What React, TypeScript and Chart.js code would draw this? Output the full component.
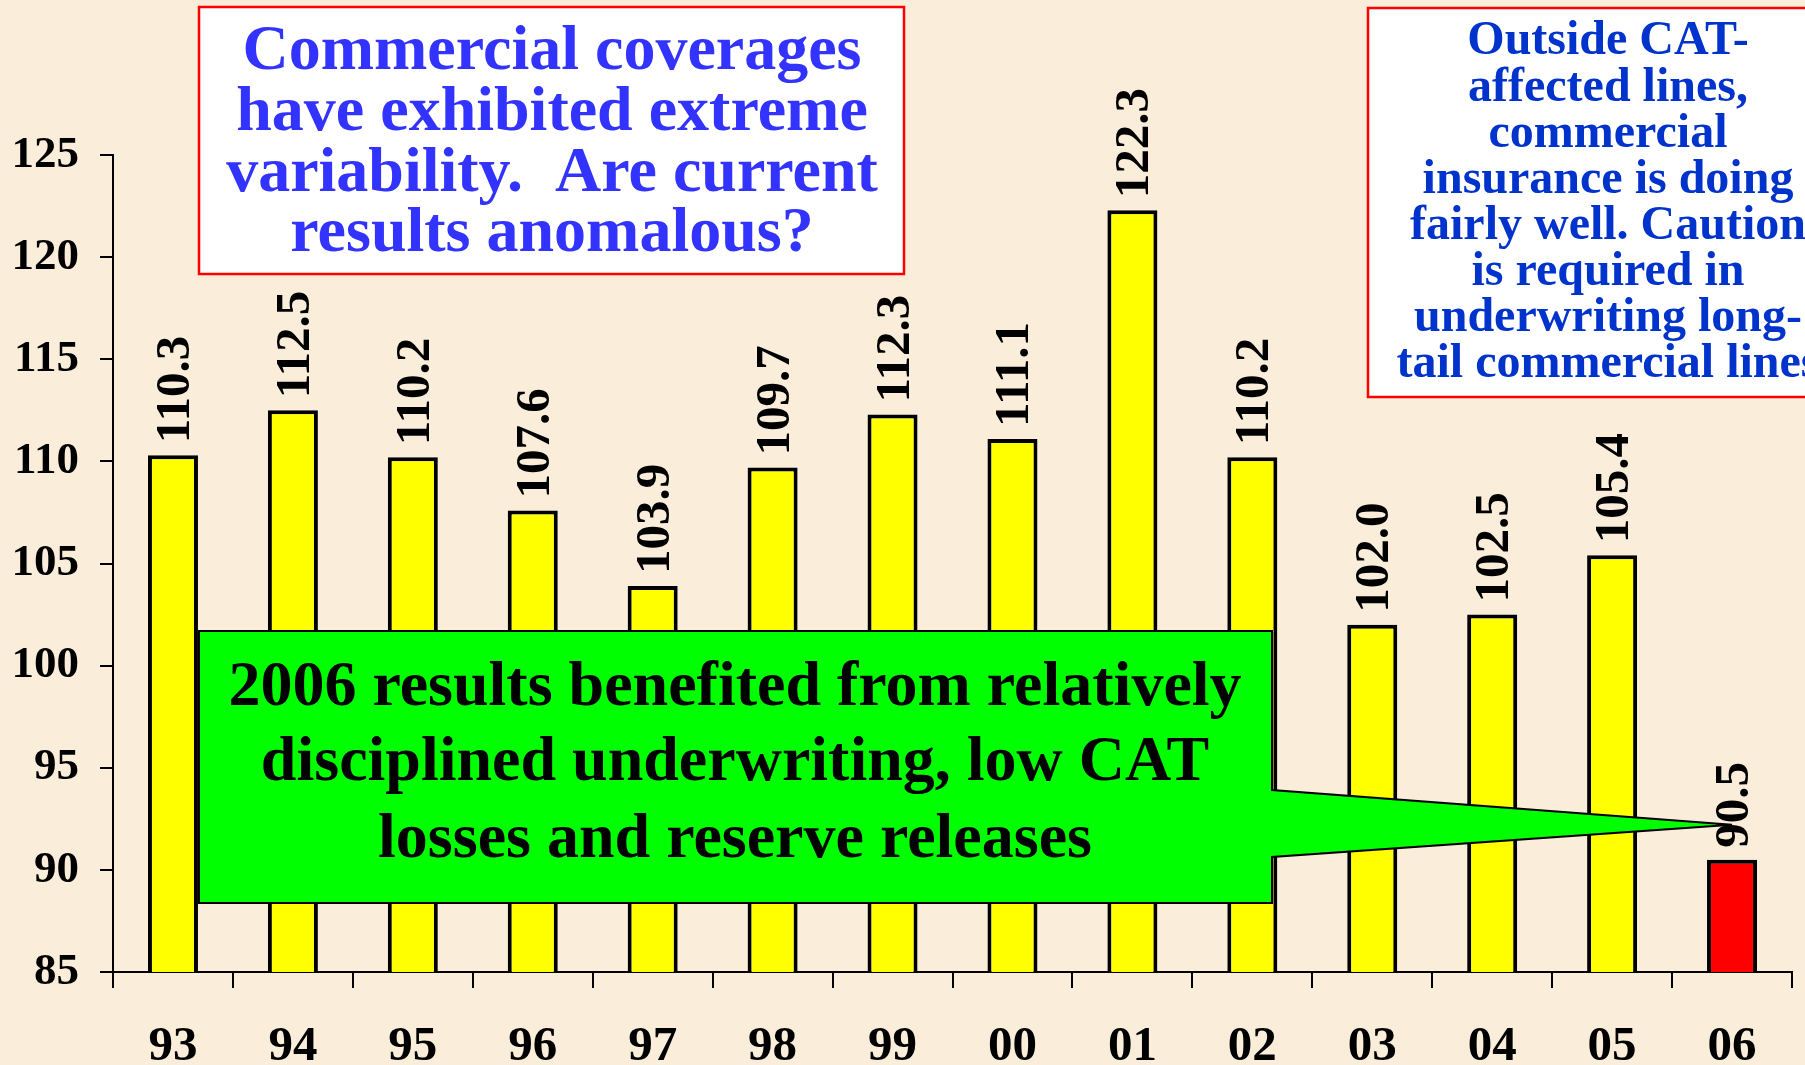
import { useEffect, useRef } from "react";
import { Chart, registerables } from "chart.js";

Chart.register(...registerables);

const years = ["93", "94", "95", "96", "97", "98", "99", "00", "01", "02", "03", "04", "05", "06"];
const combinedRatio = [110.3, 112.5, 110.2, 107.6, 103.9, 109.7, 112.3, 111.1, 122.3, 110.2, 102.0, 102.5, 105.4, 90.5];
const barColors = ["#FFFF00", "#FFFF00", "#FFFF00", "#FFFF00", "#FFFF00", "#FFFF00", "#FFFF00", "#FFFF00", "#FFFF00", "#FFFF00", "#FFFF00", "#FFFF00", "#FFFF00", "#FF0000"];
const yMin = 85;
const yMax = 125;
const yStep = 5;

const titleLines = [
  "Commercial coverages",
  "have exhibited extreme",
  "variability.  Are current",
  "results anomalous?",
];
const noteLines = [
  "Outside CAT-",
  "affected lines,",
  "commercial",
  "insurance is doing",
  "fairly well. Caution",
  "is required in",
  "underwriting long-",
  "tail commercial lines",
];
const calloutLines = [
  "2006 results benefited from relatively",
  "disciplined underwriting, low CAT",
  "losses and reserve releases",
];

const SERIF = "'Times New Roman', 'Liberation Serif', serif";

const annotationPlugin = {
  id: "annotations",
  beforeDraw(chart: any) {
    const ctx = chart.ctx;
    ctx.save();
    ctx.fillStyle = "#FAEEDA";
    ctx.fillRect(0, 0, chart.width, chart.height);
    ctx.restore();
  },
  afterDatasetsDraw(chart: any) {
    const ctx = chart.ctx;
    const meta = chart.getDatasetMeta(0);
    const last = meta.data[meta.data.length - 1];

    // green callout
    ctx.save();
    const tipX = last.x;
    const tipY = last.y - 35;
    ctx.beginPath();
    ctx.moveTo(199, 631);
    ctx.lineTo(1272, 631);
    ctx.lineTo(1272, 790);
    ctx.lineTo(tipX, tipY);
    ctx.lineTo(1272, 857);
    ctx.lineTo(1272, 903);
    ctx.lineTo(199, 903);
    ctx.closePath();
    ctx.fillStyle = "#00FF00";
    ctx.fill();
    ctx.lineWidth = 2;
    ctx.strokeStyle = "#000000";
    ctx.stroke();
    ctx.fillStyle = "#000000";
    ctx.font = `bold 64px ${SERIF}`;
    ctx.textAlign = "center";
    ctx.textBaseline = "middle";
    const cy = [688, 763, 840];
    calloutLines.forEach((t, i) => ctx.fillText(t, 735, cy[i]));
    ctx.restore();

    // data labels
    ctx.save();
    ctx.fillStyle = "#000000";
    ctx.font = `bold 49px ${SERIF}`;
    ctx.textAlign = "left";
    ctx.textBaseline = "alphabetic";
    meta.data.forEach((bar: any, i: number) => {
      ctx.save();
      ctx.translate(bar.x + 16, bar.y - 12);
      ctx.rotate(-Math.PI / 2);
      ctx.fillText(combinedRatio[i].toFixed(1), 0, 0);
      ctx.restore();
    });
    ctx.restore();

    // top-left box
    ctx.save();
    ctx.fillStyle = "#FFFFFF";
    ctx.fillRect(199, 7, 705, 267);
    ctx.lineWidth = 2.5;
    ctx.strokeStyle = "#FF0000";
    ctx.strokeRect(199, 7, 705, 267);
    ctx.fillStyle = "#3333FF";
    ctx.font = `bold 64px ${SERIF}`;
    ctx.textAlign = "center";
    ctx.textBaseline = "middle";
    const ty = [52, 113, 174, 234];
    titleLines.forEach((t, i) => ctx.fillText(t, 552, ty[i]));
    ctx.restore();

    // right box
    ctx.save();
    ctx.fillStyle = "#FFFFFF";
    ctx.fillRect(1368, 8, 480, 389);
    ctx.lineWidth = 2.5;
    ctx.strokeStyle = "#FF0000";
    ctx.strokeRect(1368, 8, 480, 389);
    ctx.fillStyle = "#0033CC";
    ctx.font = `bold 48px ${SERIF}`;
    ctx.textAlign = "center";
    ctx.textBaseline = "middle";
    noteLines.forEach((t, i) => ctx.fillText(t, 1608, 42 + i * 46.1));
    ctx.restore();
  },
};

export default function App() {
  const ref = useRef<HTMLCanvasElement>(null);
  useEffect(() => {
    if (!ref.current) return;
    const chart = new Chart(ref.current, {
      type: "bar",
      data: {
        labels: years,
        datasets: [
          {
            data: combinedRatio,
            backgroundColor: barColors,
            borderColor: "#000000",
            borderWidth: 4,
            borderSkipped: false,
            categoryPercentage: 1,
            barPercentage: 0.417,
          },
        ],
      },
      options: {
        animation: false,
        responsive: false,
        maintainAspectRatio: false,
        events: [],
        layout: { padding: { left: 0, right: 13, top: 155, bottom: 0 } },
        plugins: { legend: { display: false }, tooltip: { enabled: false }, title: { display: false } },
        scales: {
          x: {
            offset: true,
            grid: {
              offset: true,
              drawOnChartArea: false,
              drawTicks: true,
              tickLength: 16,
              color: "#000000",
              lineWidth: 2,
            },
            border: { display: true, color: "#000000", width: 2 },
            ticks: {
              color: "#000000",
              font: { family: SERIF, size: 49, weight: "bold" },
              padding: 30,
              maxRotation: 0,
              autoSkip: false,
            },
            afterFit(scale: any) {
              scale.height = 93;
            },
          },
          y: {
            min: yMin,
            max: yMax,
            grid: {
              drawOnChartArea: false,
              drawTicks: true,
              tickLength: 13,
              color: "#000000",
              lineWidth: 2,
            },
            border: { display: true, color: "#000000", width: 2 },
            ticks: {
              stepSize: yStep,
              color: "#000000",
              font: { family: SERIF, size: 45, weight: "bold" },
              padding: 21,
            },
            afterFit(scale: any) {
              scale.width = 113;
            },
          },
        },
      },
      plugins: [annotationPlugin],
    } as any);
    return () => chart.destroy();
  }, []);
  return (
    <div style={{ position: "fixed", left: 0, top: 0, width: 1805, height: 1065, overflow: "hidden" }}>
      <canvas ref={ref} width={1805} height={1065} style={{ width: 1805, height: 1065, display: "block" }} />
    </div>
  );
}
